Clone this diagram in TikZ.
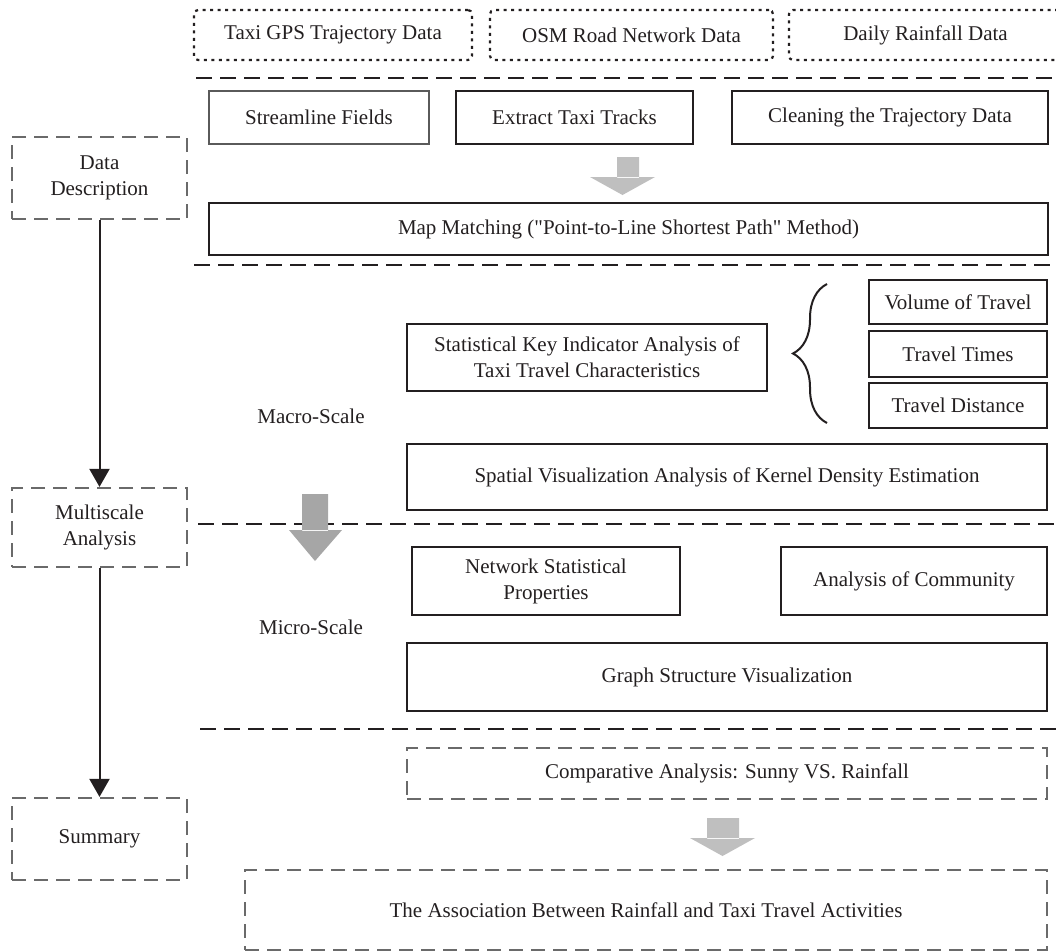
\documentclass[tikz,border=0pt]{standalone}
\usepackage{fontspec}
\setmainfont{Liberation Serif}
\usetikzlibrary{arrows.meta,decorations.pathreplacing}

\definecolor{ink}{HTML}{231F20}
\definecolor{dashgray}{HTML}{6A6A6A}

\begin{document}
\begin{tikzpicture}[x=1pt,y=-1pt,
    every node/.style={font=\fontsize{21}{26}\selectfont,text=ink,align=center,inner sep=0pt},
    srcbox/.style={draw=ink,line width=2.2pt,dash pattern=on 3pt off 4.5pt,rounded corners=4pt},
    stepbox/.style={draw=ink,line width=2.6pt},
    greybox/.style={draw=dashgray!85!black,line width=2.4pt},
    sidebox/.style={draw=dashgray,line width=2.2pt,dash pattern=on 14pt off 8pt},
    sepline/.style={draw=ink,line width=2.2pt,dash pattern=on 16pt off 8pt},
    flow/.style={draw=ink,line width=2pt,-{Triangle[width=20pt,length=18pt]}}]
  \useasboundingbox (0,0) rectangle (1056,951);

  \node[srcbox,minimum width=278,minimum height=50] (gps) at (333,35) {Taxi GPS Trajectory Data};
  \node[srcbox,minimum width=283,minimum height=50] (osm) at (631.5,35) {OSM Road Network Data};
  \node[srcbox,minimum width=273,minimum height=50] (rain) at (925.5,35) {Daily Rainfall Data};
  \draw[sepline] (196,78) -- (1056,78);

  \node[greybox,minimum width=220,minimum height=53] (stream) at (319,117.5) {Streamline Fields};
  \node[stepbox,minimum width=237,minimum height=53] (extract) at (574.5,117.5) {Extract Taxi Tracks};
  \node[stepbox,minimum width=316,minimum height=53] (clean) at (890,117.5) {Cleaning the Trajectory Data};
  \fill[black!25] (617,157) rectangle (639,178) (590,177) -- (655,177) -- (622.5,195) -- cycle;
  \node[stepbox,minimum width=839,minimum height=52] (match) at (628.5,229) {Map Matching (\textquotedbl Point-to-Line Shortest Path\textquotedbl{} Method)};
  \draw[sepline] (194,265) -- (1056,265);

  \node[stepbox,minimum width=360,minimum height=67] (stats) at (587,357.5) {Statistical Key Indicator Analysis of\\Taxi Travel Characteristics};
  \draw[ink,line width=2pt,decorate,decoration={brace,amplitude=34pt}] (827,423) -- (827,284);
  \node[stepbox,minimum width=178,minimum height=44] (volume) at (958,302) {Volume of Travel};
  \node[stepbox,minimum width=178,minimum height=46] (times) at (958,354) {Travel Times};
  \node[stepbox,minimum width=178,minimum height=45] (dist) at (958,405.5) {Travel Distance};
  \node (macro) at (311,416) {Macro-Scale};
  \node[stepbox,minimum width=640,minimum height=66] (kde) at (727,477) {Spatial Visualization Analysis of Kernel Density Estimation};
  \draw[sepline] (198,524) -- (1056,524);
  \fill[black!35] (302,494) rectangle (328,531) (289,530) -- (342,530) -- (315,561) -- cycle;

  \node[stepbox,minimum width=268,minimum height=68] (netstat) at (546,581) {Network Statistical\\Properties};
  \node[stepbox,minimum width=266,minimum height=68] (community) at (914,581) {Analysis of Community};
  \node (micro) at (311,627) {Micro-Scale};
  \node[stepbox,minimum width=640,minimum height=68] (graph) at (727,677) {Graph Structure Visualization};
  \draw[sepline] (200,729) -- (1056,729);

  \node[sidebox,minimum width=640,minimum height=51] (compare) at (727,773.5) {Comparative Analysis: Sunny VS. Rainfall};
  \fill[black!25] (707,818) rectangle (739,839) (690,838) -- (755,838) -- (722.5,856) -- cycle;
  \node[sidebox,minimum width=802,minimum height=80] (assoc) at (646,910) {The Association Between Rainfall and Taxi Travel Activities};

  \node[sidebox,minimum width=175,minimum height=82] (desc) at (99.5,178) {Data\\Description};
  \node[sidebox,minimum width=175,minimum height=79] (multi) at (99.5,527.5) {Multiscale\\Analysis};
  \node[sidebox,minimum width=175,minimum height=82] (summary) at (99.5,839) {Summary};
  \draw[flow] (desc) -- (multi);
  \draw[flow] (multi) -- (summary);
\end{tikzpicture}
\end{document}
